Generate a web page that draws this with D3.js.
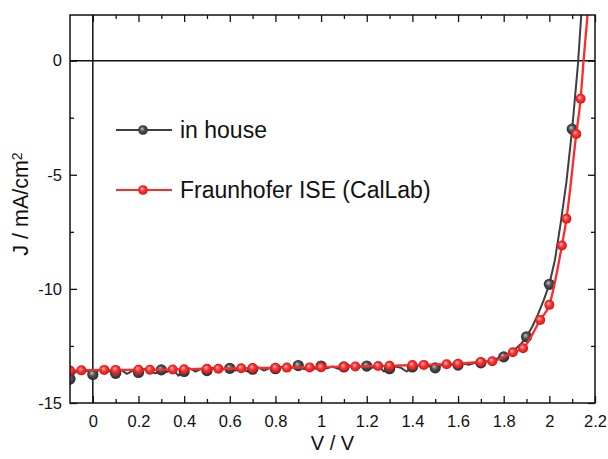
<!DOCTYPE html>
<html>
<head>
<meta charset="utf-8">
<script src="https://cdn.jsdelivr.net/npm/d3@7"></script>
<style>
  body { margin: 0; background: #fff; }
  svg { display: block; }
  text { font-family: "Liberation Sans", Arial, sans-serif; fill: #111; }
</style>
</head>
<body>
<svg id="chart" width="608" height="459"></svg>
<script>
// J–V sweep, in-house measurement (dense, noisy data; a marker on every 4th point)
const grayV = [
  -0.1, -0.075, -0.05, -0.025, 0, 0.025, 0.05, 0.075, 0.1, 0.125, 0.15, 0.175,
  0.2, 0.225, 0.25, 0.275, 0.3, 0.325, 0.35, 0.375, 0.4, 0.425, 0.45, 0.475,
  0.5, 0.525, 0.55, 0.575, 0.6, 0.625, 0.65, 0.675, 0.7, 0.725, 0.75, 0.775,
  0.8, 0.825, 0.85, 0.875, 0.9, 0.925, 0.95, 0.975, 1, 1.025, 1.05, 1.075,
  1.1, 1.125, 1.15, 1.175, 1.2, 1.225, 1.25, 1.275, 1.3, 1.325, 1.35, 1.375,
  1.4, 1.425, 1.45, 1.475, 1.5, 1.525, 1.55, 1.575, 1.6, 1.625, 1.65, 1.675,
  1.7, 1.725, 1.75, 1.775, 1.8, 1.825, 1.85, 1.875, 1.9, 1.925, 1.95, 1.975,
  2, 2.025, 2.05, 2.075, 2.1, 2.125, 2.15
];
const grayJ = [
  -13.95, -13.62, -13.70, -13.58,
  -13.75, -13.55, -13.66, -13.60,
  -13.70, -13.56, -13.72, -13.58,
  -13.66, -13.50, -13.62, -13.70,
  -13.55, -13.64, -13.52, -13.80,
  -13.62, -13.48, -13.62, -13.50,
  -13.58, -13.45, -13.60, -13.52,
  -13.48, -13.58, -13.46, -13.62,
  -13.52, -13.44, -13.58, -13.47,
  -13.50, -13.42, -13.55, -13.44,
  -13.36, -13.52, -13.42, -13.50,
  -13.38, -13.48, -13.40, -13.50,
  -13.42, -13.36, -13.48, -13.40,
  -13.38, -13.46, -13.36, -13.62,
  -13.50, -13.40, -13.46, -13.62,
  -13.42, -13.36, -13.44, -13.38,
  -13.46, -13.34, -13.40, -13.32,
  -13.34, -13.28, -13.32, -13.24,
  -13.24, -13.18, -13.14, -13.04,
  -12.98, -12.86, -12.64, -12.42,
  -12.10, -11.66, -11.12, -10.50,
  -9.80, -8.70, -7.10, -5.30,
  -3.00, -0.20, 3.50
];

// J–V sweep, Fraunhofer ISE (CalLab) reference measurement
const redV = [
  -0.1, -0.05, 0.05, 0.1, 0.2, 0.25, 0.35, 0.4, 0.5, 0.55, 0.65, 0.7,
  0.8, 0.85, 0.95, 1.0, 1.1, 1.15, 1.25, 1.3, 1.4, 1.45, 1.55, 1.6,
  1.7, 1.75, 1.84, 1.885, 1.96, 2.0, 2.055, 2.075, 2.118, 2.137
];
const redJ = [
  -13.58, -13.57, -13.55, -13.55, -13.54, -13.54, -13.53, -13.52, -13.50, -13.50, -13.48, -13.47,
  -13.46, -13.45, -13.44, -13.43, -13.41, -13.40, -13.38, -13.37, -13.34, -13.33, -13.30, -13.28,
  -13.20, -13.17, -12.78, -12.60, -11.36, -10.70, -8.10, -6.93, -3.21, -1.67
];
// continuation of the reference curve past the last plotted marker
const redTailV = [2.15, 2.175];
const redTailJ = [0.0, 2.9];

// axis ticks
const xMajor = [0, 0.2, 0.4, 0.6, 0.8, 1, 1.2, 1.4, 1.6, 1.8, 2, 2.2];
const xMajorLabels = ["0", "0.2", "0.4", "0.6", "0.8", "1", "1.2", "1.4", "1.6", "1.8", "2", "2.2"];
const xMinor = [0.1, 0.3, 0.5, 0.7, 0.9, 1.1, 1.3, 1.5, 1.7, 1.9, 2.1];
const yMajor = [-15, -10, -5, 0];
const yMajorLabels = ["-15", "-10", "-5", "0"];
const yMinor = [-12.5, -7.5, -2.5];

const seriesNames = ["in house", "Fraunhofer ISE (CalLab)"];

// ---------------------------------------------------------------
const svg = d3.select("#chart");
const L = 70, R = 595, T = 15, B = 403;

const x = d3.scaleLinear().domain([-0.1, 2.2]).range([L, R]);
const y = d3.scaleLinear().domain([-15, 2]).range([B, T]);

// sphere-shaded marker fills
const defs = svg.append("defs");
function sphere(id, c0, c1, c2) {
  const g = defs.append("radialGradient").attr("id", id)
    .attr("cx", "50%").attr("cy", "50%").attr("r", "55%")
    .attr("fx", "38%").attr("fy", "35%");
  g.append("stop").attr("offset", "0%").attr("stop-color", c0);
  g.append("stop").attr("offset", "45%").attr("stop-color", c1);
  g.append("stop").attr("offset", "100%").attr("stop-color", c2);
}
sphere("ballGray", "#c8c8c8", "#505050", "#262626");
sphere("ballRed", "#ffc0c0", "#ff3434", "#cc1010");

defs.append("clipPath").attr("id", "plotClip")
  .append("rect").attr("x", L).attr("y", T).attr("width", R - L).attr("height", B - T);

// zero lines
svg.append("line").attr("x1", x(0)).attr("x2", x(0)).attr("y1", T).attr("y2", B)
  .attr("stroke", "#111").attr("stroke-width", 1.5);
svg.append("line").attr("x1", L).attr("x2", R).attr("y1", y(0)).attr("y2", y(0))
  .attr("stroke", "#111").attr("stroke-width", 1.5);

// axes: ticks point into the plot on all four sides
function styleAxis(g) {
  g.select(".domain").remove();
  g.selectAll(".tick line").attr("stroke", "#111").attr("stroke-width", 1.3);
  g.selectAll(".tick text").attr("fill", "#111").style("font-size", "16.5px")
    .style("font-family", '"Liberation Sans", Arial, sans-serif');
}
svg.append("g").attr("transform", `translate(0,${B})`)
  .call(d3.axisBottom(x).tickValues(xMajor).tickSize(-7).tickPadding(12)
    .tickFormat((d, i) => xMajorLabels[i]))
  .call(styleAxis);
svg.append("g").attr("transform", `translate(0,${B})`)
  .call(d3.axisBottom(x).tickValues(xMinor).tickSize(-4).tickFormat(""))
  .call(styleAxis);
svg.append("g").attr("transform", `translate(0,${T})`)
  .call(d3.axisTop(x).tickValues(xMajor).tickSize(-7).tickFormat(""))
  .call(styleAxis);
svg.append("g").attr("transform", `translate(0,${T})`)
  .call(d3.axisTop(x).tickValues(xMinor).tickSize(-4).tickFormat(""))
  .call(styleAxis);
svg.append("g").attr("transform", `translate(${L},0)`)
  .call(d3.axisLeft(y).tickValues(yMajor).tickSize(-7).tickPadding(8)
    .tickFormat((d, i) => yMajorLabels[i]))
  .call(styleAxis);
svg.append("g").attr("transform", `translate(${L},0)`)
  .call(d3.axisLeft(y).tickValues(yMinor).tickSize(-4).tickFormat(""))
  .call(styleAxis);
svg.append("g").attr("transform", `translate(${R},0)`)
  .call(d3.axisRight(y).tickValues(yMajor).tickSize(-7).tickFormat(""))
  .call(styleAxis);
svg.append("g").attr("transform", `translate(${R},0)`)
  .call(d3.axisRight(y).tickValues(yMinor).tickSize(-4).tickFormat(""))
  .call(styleAxis);

// data
const plot = svg.append("g").attr("clip-path", "url(#plotClip)");
const grayPts = grayV.map((v, i) => [v, grayJ[i]]);
const redPts = redV.map((v, i) => [v, redJ[i]]);
const redLinePts = redPts.concat(redTailV.map((v, i) => [v, redTailJ[i]]));

const lineLin = d3.line().x(d => x(d[0])).y(d => y(d[1]));
const lineSmooth = d3.line().x(d => x(d[0])).y(d => y(d[1])).curve(d3.curveMonotoneX);

plot.append("path").datum(grayPts).attr("d", lineLin)
  .attr("fill", "none").attr("stroke", "#3e3e3e").attr("stroke-width", 2)
  .attr("stroke-linejoin", "round");
plot.selectAll("circle.gray").data(grayPts.filter((d, i) => i % 4 === 0))
  .join("circle").attr("class", "gray")
  .attr("cx", d => x(d[0])).attr("cy", d => y(d[1])).attr("r", 5.6)
  .attr("fill", "url(#ballGray)");

plot.append("path").datum(redLinePts).attr("d", lineSmooth)
  .attr("fill", "none").attr("stroke", "#ff2a2a").attr("stroke-width", 2.3);
plot.selectAll("circle.red").data(redPts)
  .join("circle").attr("class", "red")
  .attr("cx", d => x(d[0])).attr("cy", d => y(d[1])).attr("r", 5)
  .attr("fill", "url(#ballRed)");

// frame
svg.append("rect").attr("x", L).attr("y", T).attr("width", R - L).attr("height", B - T)
  .attr("fill", "none").attr("stroke", "#111").attr("stroke-width", 1.5);

// axis titles
svg.append("text").attr("x", (L + R) / 2).attr("y", 450).attr("text-anchor", "middle")
  .style("font-size", "20px").text("V / V");
const yt = svg.append("text").attr("transform", "translate(28,204) rotate(-90)")
  .attr("text-anchor", "middle").style("font-size", "21.5px");
yt.append("tspan").text("J / mA/cm");
yt.append("tspan").attr("dy", "-0.45em").style("font-size", "14px").text("2");

// legend
const legend = svg.append("g");
const legendRows = [
  { name: seriesNames[0], stroke: "#3e3e3e", fill: "url(#ballGray)", yy: 130 },
  { name: seriesNames[1], stroke: "#ff2a2a", fill: "url(#ballRed)", yy: 190 }
];
legendRows.forEach(r => {
  legend.append("line").attr("x1", 116).attr("x2", 172).attr("y1", r.yy).attr("y2", r.yy)
    .attr("stroke", r.stroke).attr("stroke-width", 1.8);
  legend.append("circle").attr("cx", 143).attr("cy", r.yy).attr("r", 4.8).attr("fill", r.fill);
  legend.append("text").attr("x", 180).attr("y", r.yy + 8).style("font-size", "23px").text(r.name);
});
</script>
</body>
</html>
